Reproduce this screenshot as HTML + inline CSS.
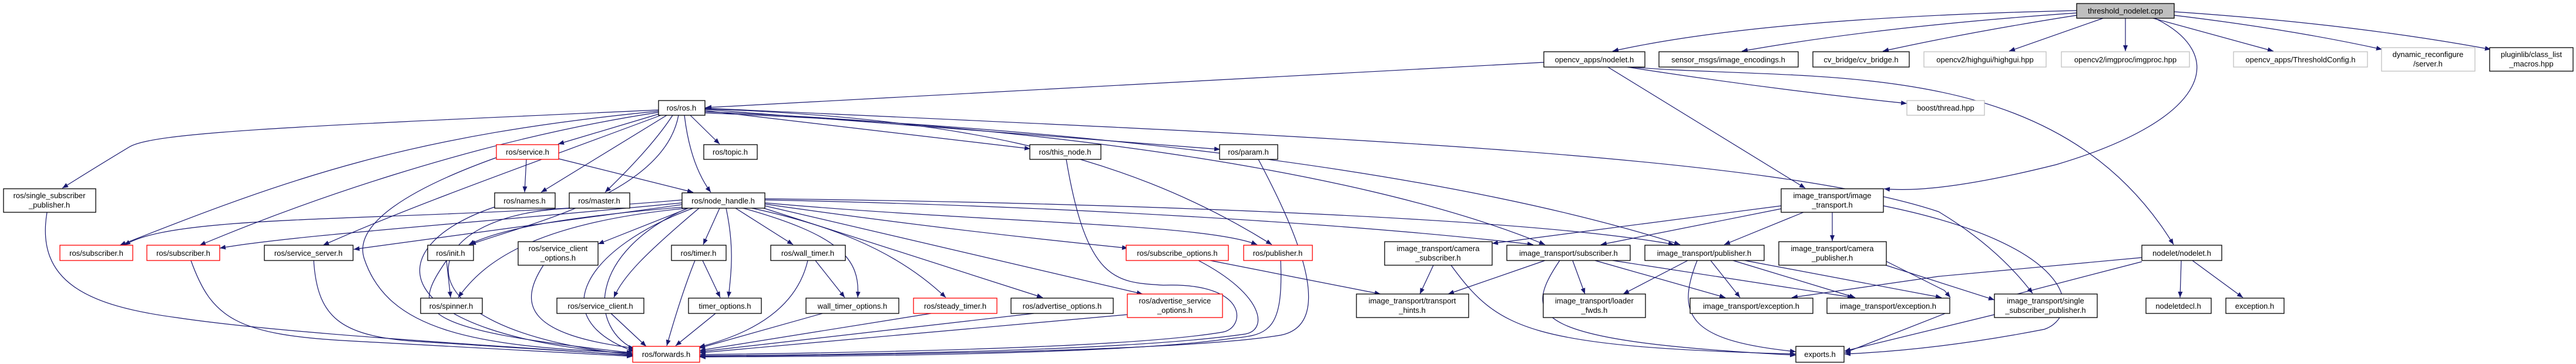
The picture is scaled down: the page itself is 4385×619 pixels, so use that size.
<!DOCTYPE html>
<html><head><meta charset="utf-8"><style>
html,body{margin:0;padding:0;background:#fff;}
svg{display:block;}
text{font-family:"Liberation Sans",sans-serif;font-size:13px;fill:#000;text-anchor:middle;}
.e{fill:none;stroke:#191970;stroke-width:1.2;marker-end:url(#a);}
.b{fill:#fff;stroke:#000;stroke-width:1.3;}
.r{fill:#fff;stroke:#ff0000;stroke-width:1.3;}
.g{fill:#fff;stroke:#bfbfbf;stroke-width:1.3;}
</style></head><body>
<svg width="4385" height="619" viewBox="0 0 4385 619" xmlns="http://www.w3.org/2000/svg">
<defs><marker id="a" markerUnits="userSpaceOnUse" markerWidth="11" markerHeight="8" refX="10" refY="4" orient="auto"><path d="M0,0 L10,4 L0,8 z" fill="#191970"/></marker></defs>
<g>
<path class="e" d="M3535,18 Q3000,30 2745,87"/>
<path class="e" d="M3535,22 Q3200,45 2965,87"/>
<path class="e" d="M3535,26 Q3350,55 3205,87"/>
<path class="e" d="M3580,31 L3420,87"/>
<path class="e" d="M3618,31 L3618,87"/>
<path class="e" d="M3665,31 L3870,87"/>
<path class="e" d="M3701,26 Q3900,50 4055,84"/>
<path class="e" d="M3701,20 Q4000,40 4240,84"/>
<path class="e" d="M3668,31 C3790,90 3770,200 3500,280 Q3300,330 3207,321"/>
<path class="e" d="M2628,106 L1201,183"/>
<path class="e" d="M2737,114 L3073,320"/>
<path class="e" d="M2770,114 Q3000,150 3246,176"/>
<path class="e" d="M2775,114 C3100,140 3500,90 3700,416"/>
<path class="e" d="M1121,187 C500,215 260,225 220,250 Q170,280 106,320"/>
<path class="e" d="M1121,189 C700,230 500,300 204,417"/>
<path class="e" d="M1121,191 C800,240 500,350 340,417"/>
<path class="e" d="M1125,196 C900,280 700,350 550,417"/>
<path class="e" d="M1121,194 L950,245"/>
<path class="e" d="M1135,196 L921,327"/>
<path class="e" d="M1145,196 Q1110,250 1030,327"/>
<path class="e" d="M1155,196 C1130,330 900,380 800,416"/>
<path class="e" d="M1165,196 Q1175,280 1210,327"/>
<path class="e" d="M1175,196 L1225,245"/>
<path class="e" d="M1200,188 L1754,253"/>
<path class="e" d="M1200,186 L2077,254"/>
<path class="e" d="M1200,185 C1600,200 1900,250 2165,416"/>
<path class="e" d="M1200,190 C1700,210 2300,280 2630,416"/>
<path class="e" d="M1200,192 C1900,220 2500,300 2860,416"/>
<path class="e" d="M1200,184 C2200,230 3000,260 3300,360 Q3400,420 3460,499"/>
<path class="e" d="M896,271 L893,327"/>
<path class="e" d="M951,270 L1180,327"/>
<path class="e" d="M845,268 C700,320 600,380 620,440 C660,560 800,590 1077,600"/>
<path class="e" d="M1161,340 C700,380 300,360 212,417"/>
<path class="e" d="M1161,345 C800,380 500,400 374,422"/>
<path class="e" d="M1161,348 L602,424"/>
<path class="e" d="M1165,352 C950,370 850,390 798,416"/>
<path class="e" d="M1170,354 C900,380 820,450 780,506"/>
<path class="e" d="M1172,354 L1018,415"/>
<path class="e" d="M1190,354 C1100,430 1060,470 1045,506"/>
<path class="e" d="M1225,354 L1197,416"/>
<path class="e" d="M1236,354 C1250,420 1245,460 1240,506"/>
<path class="e" d="M1252,354 L1350,416"/>
<path class="e" d="M1265,354 C1430,400 1465,440 1460,506"/>
<path class="e" d="M1280,354 C1400,380 1520,420 1610,506"/>
<path class="e" d="M1300,354 L1775,506"/>
<path class="e" d="M1302,350 L1945,500"/>
<path class="e" d="M1302,347 Q1600,390 1920,422"/>
<path class="e" d="M1302,345 C1700,380 2050,380 2140,416"/>
<path class="e" d="M1302,340 C1800,350 2300,380 2610,416"/>
<path class="e" d="M1302,338 C1900,345 2600,370 2850,416"/>
<path class="e" d="M1180,354 C1000,420 920,540 1080,598"/>
<path class="e" d="M1170,354 C1000,430 1000,560 1085,596"/>
<path class="e" d="M80,361 C60,480 150,520 300,540 C500,570 900,590 1077,605"/>
<path class="e" d="M325,443 C360,540 400,570 600,580 L1077,606"/>
<path class="e" d="M534,443 C540,540 580,570 700,580 L1077,604"/>
<path class="e" d="M842,352 C640,420 650,570 1077,602"/>
<path class="e" d="M980,354 C700,360 650,560 1077,603"/>
<path class="e" d="M760,443 C700,530 700,560 1077,600"/>
<path class="e" d="M760,443 L767,506"/>
<path class="e" d="M925,451 C880,520 900,570 1080,592"/>
<path class="e" d="M1040,533 L1100,589"/>
<path class="e" d="M1183,443 Q1160,500 1135,588"/>
<path class="e" d="M1196,443 L1226,506"/>
<path class="e" d="M1218,533 L1150,588"/>
<path class="e" d="M1375,443 Q1350,550 1190,590"/>
<path class="e" d="M1388,443 L1438,506"/>
<path class="e" d="M1400,533 L1190,592"/>
<path class="e" d="M1585,533 L1191,596"/>
<path class="e" d="M1760,533 L1191,598"/>
<path class="e" d="M1919,535 L1191,600"/>
<path class="e" d="M1815,271 C1850,480 1900,480 1980,485 C2130,480 2120,560 2080,565 Q1900,595 1191,603"/>
<path class="e" d="M2142,271 C2200,380 2280,550 2180,570 Q2000,600 1191,606"/>
<path class="e" d="M2040,443 C2150,500 2160,560 2120,568 Q1900,600 1191,605"/>
<path class="e" d="M2180,443 C2185,560 2160,570 2100,575 Q1900,605 1191,607"/>
<path class="e" d="M2060,443 L2350,500"/>
<path class="e" d="M3032,350 L2540,414"/>
<path class="e" d="M3032,355 L2725,416"/>
<path class="e" d="M3070,361 L2935,416"/>
<path class="e" d="M3119,361 L3119,410"/>
<path class="e" d="M3206,350 C3550,420 3540,540 3480,560 Q3300,595 3140,602"/>
<path class="e" d="M2440,451 L2417,500"/>
<path class="e" d="M2470,451 C2550,560 2600,590 3057,602"/>
<path class="e" d="M2630,443 L2465,500"/>
<path class="e" d="M2655,443 C2590,540 2600,580 3057,604"/>
<path class="e" d="M2677,443 L2698,500"/>
<path class="e" d="M2715,443 L2937,506"/>
<path class="e" d="M2745,443 L3155,506"/>
<path class="e" d="M2873,443 L2763,500"/>
<path class="e" d="M2889,443 C2850,540 2880,580 3057,598"/>
<path class="e" d="M2912,443 L2962,506"/>
<path class="e" d="M2950,443 L3158,506"/>
<path class="e" d="M2970,443 L3305,506"/>
<path class="e" d="M3210,451 L3395,510"/>
<path class="e" d="M3208,443 L3310,494 L3320,506"/>
<path class="e" d="M3646,438 L3300,470 L3050,506"/>
<path class="e" d="M3646,445 L3395,510"/>
<path class="e" d="M3713,443 L3711,506"/>
<path class="e" d="M3732,443 L3818,506"/>
<path class="e" d="M3395,535 L3140,597"/>
<path class="e" d="M3319,530 L3140,600"/>
</g>
<g>
<rect x="3535" y="6" width="166" height="25" fill="#bfbfbf" stroke="#000" stroke-width="1.3"/><text x="3618" y="23">threshold_nodelet.cpp</text>
<rect class="b" x="2628" y="88" width="172" height="26"/><text x="2714" y="106">opencv_apps/nodelet.h</text>
<rect class="b" x="2824" y="88" width="237" height="26"/><text x="2942" y="106">sensor_msgs/image_encodings.h</text>
<rect class="b" x="3086" y="88" width="164" height="26"/><text x="3168" y="106">cv_bridge/cv_bridge.h</text>
<rect class="g" x="3275" y="88" width="208" height="26"/><text x="3379" y="106">opencv2/highgui/highgui.hpp</text>
<rect class="g" x="3509" y="88" width="218" height="26"/><text x="3618" y="106">opencv2/imgproc/imgproc.hpp</text>
<rect class="g" x="3802" y="88" width="228" height="26"/><text x="3916" y="106">opencv_apps/ThresholdConfig.h</text>
<rect class="g" x="4054" y="81" width="159" height="40"/><text x="4133" y="97">dynamic_reconfigure</text><text x="4133" y="113">/server.h</text>
<rect class="b" x="4238" y="81" width="142" height="40"/><text x="4309" y="97">pluginlib/class_list</text><text x="4309" y="113">_macros.hpp</text>
<rect class="b" x="1121" y="171" width="79" height="25"/><text x="1160" y="188">ros/ros.h</text>
<rect class="g" x="3246" y="171" width="132" height="25"/><text x="3312" y="188">boost/thread.hpp</text>
<rect class="r" x="845" y="246" width="106" height="25"/><text x="898" y="263">ros/service.h</text>
<rect class="b" x="1198" y="246" width="91" height="25"/><text x="1243" y="263">ros/topic.h</text>
<rect class="b" x="1753" y="246" width="121" height="25"/><text x="1813" y="263">ros/this_node.h</text>
<rect class="b" x="2076" y="246" width="99" height="25"/><text x="2125" y="263">ros/param.h</text>
<rect class="b" x="6" y="321" width="157" height="40"/><text x="84" y="337">ros/single_subscriber</text><text x="84" y="353">_publisher.h</text>
<rect class="b" x="842" y="328" width="103" height="26"/><text x="893" y="346">ros/names.h</text>
<rect class="b" x="969" y="328" width="103" height="26"/><text x="1020" y="346">ros/master.h</text>
<rect class="b" x="1161" y="328" width="141" height="26"/><text x="1231" y="346">ros/node_handle.h</text>
<rect class="b" x="3032" y="321" width="174" height="40"/><text x="3119" y="337">image_transport/image</text><text x="3119" y="353">_transport.h</text>
<rect class="r" x="102" y="417" width="124" height="26"/><text x="164" y="435">ros/subscriber.h</text>
<rect class="r" x="250" y="417" width="124" height="26"/><text x="312" y="435">ros/subscriber.h</text>
<rect class="b" x="450" y="417" width="151" height="26"/><text x="525" y="435">ros/service_server.h</text>
<rect class="b" x="728" y="417" width="78" height="26"/><text x="767" y="435">ros/init.h</text>
<rect class="b" x="882" y="411" width="136" height="40"/><text x="950" y="427">ros/service_client</text><text x="950" y="443">_options.h</text>
<rect class="b" x="1143" y="417" width="93" height="26"/><text x="1189" y="435">ros/timer.h</text>
<rect class="b" x="1312" y="417" width="127" height="26"/><text x="1375" y="435">ros/wall_timer.h</text>
<rect class="r" x="1917" y="417" width="174" height="26"/><text x="2004" y="435">ros/subscribe_options.h</text>
<rect class="r" x="2117" y="417" width="117" height="26"/><text x="2175" y="435">ros/publisher.h</text>
<rect class="b" x="2357" y="411" width="183" height="40"/><text x="2448" y="427">image_transport/camera</text><text x="2448" y="443">_subscriber.h</text>
<rect class="b" x="2565" y="417" width="210" height="26"/><text x="2670" y="435">image_transport/subscriber.h</text>
<rect class="b" x="2800" y="417" width="203" height="26"/><text x="2901" y="435">image_transport/publisher.h</text>
<rect class="b" x="3028" y="411" width="183" height="40"/><text x="3119" y="427">image_transport/camera</text><text x="3119" y="443">_publisher.h</text>
<rect class="b" x="3646" y="417" width="136" height="26"/><text x="3714" y="435">nodelet/nodelet.h</text>
<rect class="b" x="716" y="507" width="105" height="26"/><text x="768" y="525">ros/spinner.h</text>
<rect class="b" x="948" y="507" width="148" height="26"/><text x="1022" y="525">ros/service_client.h</text>
<rect class="b" x="1172" y="507" width="124" height="26"/><text x="1234" y="525">timer_options.h</text>
<rect class="b" x="1372" y="507" width="158" height="26"/><text x="1451" y="525">wall_timer_options.h</text>
<rect class="r" x="1555" y="507" width="142" height="26"/><text x="1626" y="525">ros/steady_timer.h</text>
<rect class="b" x="1721" y="507" width="174" height="26"/><text x="1808" y="525">ros/advertise_options.h</text>
<rect class="r" x="1919" y="500" width="162" height="40"/><text x="2000" y="516">ros/advertise_service</text><text x="2000" y="532">_options.h</text>
<rect class="b" x="2309" y="500" width="191" height="40"/><text x="2404" y="516">image_transport/transport</text><text x="2404" y="532">_hints.h</text>
<rect class="b" x="2627" y="500" width="174" height="40"/><text x="2714" y="516">image_transport/loader</text><text x="2714" y="532">_fwds.h</text>
<rect class="b" x="2877" y="507" width="209" height="26"/><text x="2981" y="525">image_transport/exception.h</text>
<rect class="b" x="3110" y="507" width="209" height="26"/><text x="3214" y="525">image_transport/exception.h</text>
<rect class="b" x="3395" y="500" width="175" height="40"/><text x="3482" y="516">image_transport/single</text><text x="3482" y="532">_subscriber_publisher.h</text>
<rect class="b" x="3653" y="507" width="111" height="26"/><text x="3708" y="525">nodeletdecl.h</text>
<rect class="b" x="3789" y="507" width="99" height="26"/><text x="3838" y="525">exception.h</text>
<rect class="r" x="1077" y="589" width="114" height="27"/><text x="1134" y="607">ros/forwards.h</text>
<rect class="b" x="3057" y="589" width="82" height="27"/><text x="3098" y="607">exports.h</text>
</g>
</svg>
</body></html>
